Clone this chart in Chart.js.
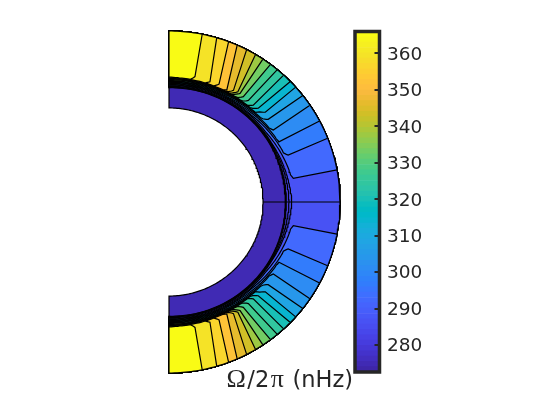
<!DOCTYPE html>
<html>
<head>
<meta charset="utf-8">
<script src="https://cdn.jsdelivr.net/npm/chart.js@4"></script>
<style>
    html, body { margin: 0; padding: 0; background: #fff; }
    #wrap { position: relative; width: 560px; height: 420px; overflow: hidden; }
    canvas { position: absolute; left: 0; top: 0; }
    #cblabel { position: absolute; left: 225px; top: 364px; color: #262626; white-space: nowrap;
        font: 22.5px "DejaVu Sans", sans-serif; }
    #cblabel i { font-style: normal; font-family: "Liberation Serif", serif; font-size: 26px; margin: 0 1.5px; }
</style>
</head>
<body>
<div id="wrap">
    <canvas id="rotation" width="560" height="420"></canvas>
    <canvas id="colorbar" width="560" height="420"></canvas>
    <div id="cblabel"><i>Ω</i>/2<i>π</i> (nHz)</div>
</div>
<script>
// --- DADOS ---
// radii are fractions of the surface radius, latitudes in degrees
const outerRadius = 1;
const innerRadius = 0.55;
const coreValue = 275;

// deep contours that go all the way round under the convection zone
const deepValues = [277, 279, 281, 284, 287];
const deepEquatorRadius = [0.680, 0.683, 0.686, 0.702, 0.718];
const deepMidRadius = [0.680, 0.683, 0.686, 0.689, 0.692];
const deepPoleRadius = [0.668, 0.670, 0.672, 0.674, 0.676];

// contours that come up to the surface (equator to pole)
const surfaceLat = [10.8, 21.9, 28.3, 34.5, 38.5, 42.2, 44.8, 47.9, 50.7, 53.6, 56.7, 59.6, 63.0, 66.5, 69.6, 73.8, 78.8];
const bendLat = [10.8, 21.5, 28.7, 34.6, 39.8, 43.0, 46.4, 49.0, 52.0, 54.8, 56.8, 58.0, 60.0, 62.7, 67.0, 71.2, 78.3];
const bendRadius = [0.740, 0.749, 0.733, 0.741, 0.755, 0.770, 0.757, 0.751, 0.754, 0.754, 0.759, 0.760, 0.754, 0.737, 0.749, 0.743, 0.749];
const settleRadius = [0.698, 0.700, 0.702, 0.704, 0.706, 0.708, 0.710, 0.712, 0.714, 0.716, 0.718, 0.720, 0.721, 0.722, 0.724, 0.726, 0.728];
const poleRadius = [0.680, 0.683, 0.686, 0.689, 0.692, 0.695, 0.698, 0.701, 0.704, 0.707, 0.710, 0.713, 0.716, 0.719, 0.722, 0.726, 0.731];
const bandValues = [292.3, 297, 300.5, 304, 308, 313.5, 319.5, 323.7, 328, 332.5, 338, 343, 347, 351.5, 356, 360, 365.5];

const cbarMin = 272.6;
const cbarMax = 366;
const cbarTicks = [280, 290, 300, 310, 320, 330, 340, 350, 360];

const parula = [
    [.2422,.1504,.6603],[.2504,.1650,.7076],[.2578,.1818,.7511],[.2647,.1978,.7952],[.2706,.2147,.8364],[.2751,.2342,.8710],
    [.2783,.2559,.8991],[.2803,.2782,.9221],[.2813,.3006,.9414],[.2810,.3228,.9579],[.2795,.3447,.9717],[.2760,.3667,.9829],
    [.2699,.3892,.9906],[.2602,.4123,.9952],[.2440,.4358,.9988],[.2206,.4603,.9973],[.1963,.4847,.9892],[.1834,.5074,.9798],
    [.1786,.5289,.9682],[.1764,.5499,.9520],[.1687,.5703,.9359],[.1540,.5902,.9218],[.1460,.6091,.9079],[.1380,.6276,.8973],
    [.1248,.6459,.8883],[.1113,.6635,.8763],[.0952,.6798,.8598],[.0689,.6948,.8394],[.0297,.7082,.8163],[.0036,.7203,.7917],
    [.0067,.7312,.7660],[.0433,.7411,.7394],[.0964,.7500,.7120],[.1408,.7584,.6842],[.1717,.7670,.6554],[.1938,.7758,.6251],
    [.2161,.7843,.5923],[.2470,.7918,.5567],[.2906,.7973,.5188],[.3406,.8008,.4789],[.3909,.8029,.4354],[.4456,.8024,.3909],
    [.5044,.7993,.3480],[.5616,.7942,.3045],[.6174,.7876,.2612],[.6720,.7793,.2227],[.7242,.7698,.1910],[.7738,.7598,.1646],
    [.8203,.7498,.1535],[.8634,.7406,.1596],[.9035,.7330,.1774],[.9393,.7288,.2100],[.9728,.7298,.2394],[.9956,.7434,.2371],
    [.9970,.7659,.2199],[.9952,.7893,.2028],[.9892,.8136,.1885],[.9786,.8386,.1766],[.9676,.8639,.1643],[.9610,.8890,.1537],
    [.9597,.9135,.1423],[.9628,.9373,.1265],[.9691,.9606,.1064],[.9769,.9839,.0805]
];

// --- FUNCOES ---
const tachTop = 0.728;   // where the contours flatten out after the bend
const midLat = 30;

function levelColor(i) {
    const c = parula[i];
    return `rgb(${Math.round(c[0]*255)},${Math.round(c[1]*255)},${Math.round(c[2]*255)})`;
}

function valueColor(v) {
    const i = Math.floor((v - cbarMin) / (cbarMax - cbarMin) * parula.length);
    return levelColor(Math.max(0, Math.min(parula.length - 1, i)));
}

function polar(r, lat) {
    const a = lat * Math.PI / 180;
    return { x: r * Math.cos(a), y: r * Math.sin(a) };
}

// arc from lat1 to lat2, radius going from r1 to r2
function arc(r1, lat1, r2, lat2) {
    const n = Math.max(1, Math.ceil(Math.abs(lat2 - lat1)));
    const pts = [];
    for (let i = 0; i <= n; i++) {
        pts.push(polar(r1 + (r2 - r1) * i / n, lat1 + (lat2 - lat1) * i / n));
    }
    return pts;
}

function patch(points, value) {
    return {
        data: points.concat([points[0]]),
        showLine: true,
        fill: 'shape',
        backgroundColor: valueColor(value),
        borderColor: '#000',
        borderWidth: 1.2,
        pointRadius: 0,
        tension: 0
    };
}

function ringPatch(i) {
    const rEq = deepEquatorRadius[i], rMid = deepMidRadius[i], rPole = deepPoleRadius[i];
    const pts = arc(outerRadius, 90, outerRadius, -90)
        .concat(arc(rPole, -90, rMid, -midLat))
        .concat(arc(rMid, -midLat, rEq, 0))
        .concat(arc(rEq, 0, rMid, midLat))
        .concat(arc(rMid, midLat, rPole, 90));
    return patch(pts, deepValues[i]);
}

function capPatch(i, side) {
    const s = surfaceLat[i], b = bendLat[i], rb = bendRadius[i];
    const flat = Math.max(rb - 0.022, tachTop);
    const settleLat = Math.min(b + 25, 85);
    const pts = [polar(outerRadius, s), polar(rb, b), polar((rb + flat) / 2 + 0.002, b + 0.6), polar(flat, b + 1.8)]
        .concat(arc(tachTop, b + 3, settleRadius[i], settleLat))
        .concat(arc(settleRadius[i], settleLat, poleRadius[i], 90))
        .concat(arc(outerRadius, 90, outerRadius, s));
    return patch(pts.map(p => ({ x: p.x, y: p.y * side })), bandValues[i]);
}

function rotationDatasets() {
    const sets = [];
    // radiative interior first, everything else is painted on top of it
    sets.push(patch(arc(outerRadius, 90, outerRadius, -90).concat(arc(innerRadius, -90, innerRadius, 90)), coreValue));
    deepValues.forEach((_, i) => sets.push(ringPatch(i)));
    surfaceLat.forEach((_, i) => {
        sets.push(capPatch(i, 1));
        sets.push(capPatch(i, -1));
    });
    // seam along the equator
    sets.push({
        data: [polar(innerRadius, 0), polar(outerRadius, 0)],
        showLine: true, fill: false, borderColor: '#000', borderWidth: 1.2, pointRadius: 0
    });
    // chart.js draws the first dataset on top
    return sets.reverse();
}

function colorbarDatasets() {
    const step = (cbarMax - cbarMin) / parula.length;
    return parula.map((_, i) => ({
        data: [[cbarMin + i * step, cbarMin + (i + 1) * step]],
        backgroundColor: levelColor(i),
        borderWidth: 0,
        barPercentage: 1,
        categoryPercentage: 1
    }));
}

const cbarFrame = {
    id: 'cbarFrame',
    afterDatasetsDraw(chart) {
        const { ctx, chartArea: a, scales: { y } } = chart;
        ctx.save();
        ctx.strokeStyle = '#262626';
        ctx.lineWidth = 2;
        cbarTicks.forEach(t => {
            const py = Math.round(y.getPixelForValue(t));
            ctx.beginPath();
            ctx.moveTo(a.right - 5, py);
            ctx.lineTo(a.right, py);
            ctx.stroke();
        });
        ctx.lineWidth = 3.5;
        ctx.strokeRect(a.left, a.top, a.right - a.left, a.bottom - a.top);
        ctx.restore();
    }
};

// --- INICIALIZACAO ---
Chart.defaults.animation = false;
Chart.defaults.responsive = false;

new Chart(document.getElementById('rotation'), {
    type: 'scatter',
    data: { datasets: rotationDatasets() },
    options: {
        layout: { padding: 0 },
        plugins: { legend: { display: false }, tooltip: { enabled: false } },
        scales: {
            x: { type: 'linear', display: false, min: -169 / 171, max: 391 / 171 },
            y: { type: 'linear', display: false, min: -218 / 171, max: 202 / 171 }
        }
    }
});

new Chart(document.getElementById('colorbar'), {
    type: 'bar',
    data: { labels: [''], datasets: colorbarDatasets() },
    options: {
        layout: { padding: { left: 355, right: 0, top: 31.5, bottom: 48 } },
        plugins: { legend: { display: false }, tooltip: { enabled: false } },
        scales: {
            x: { stacked: true, display: false },
            y: {
                position: 'right',
                min: cbarMin,
                max: cbarMax,
                afterFit: s => { s.width = 180.5; },
                afterBuildTicks: s => { s.ticks = cbarTicks.map(v => ({ value: v })); },
                border: { display: false },
                grid: { display: false, drawTicks: false },
                ticks: {
                    padding: 7.5,
                    labelOffset: 1.5,
                    color: '#262626',
                    font: { family: 'DejaVu Sans', size: 18.5 }
                }
            }
        }
    },
    plugins: [cbarFrame]
});
</script>
</body>
</html>
